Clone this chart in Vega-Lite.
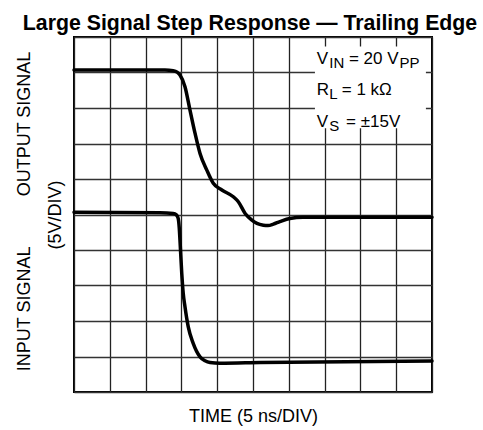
{
  "$schema": "https://vega.github.io/schema/vega-lite/v6.json",
  "width": 358,
  "height": 355,
  "autosize": {"type": "none"},
  "padding": {"left": 74, "top": 37, "right": 51, "bottom": 38},
  "background": "white",
  "title": {"text": "Large Signal Step Response — Trailing Edge", "font": "Liberation Sans", "fontSize": 21.3, "fontWeight": "bold", "color": "black", "anchor": "middle", "baseline": "alphabetic", "offset": 10, "dx": -3, "dy": 24},
  "config": {"view": {"stroke": "black", "strokeWidth": 2}},
  "datasets": {
    "box": [{"x": 6.73, "x2": 9.83, "y": 7.43, "y2": 9.73}],
    "curves": [
      {"s": "out", "x": 0, "y": 9.07},
      {"s": "out", "x": 2.12, "y": 9.07},
      {"s": "out", "x": 2.54, "y": 9.07},
      {"s": "out", "x": 2.77, "y": 9.05},
      {"s": "out", "x": 2.88, "y": 9.01},
      {"s": "out", "x": 2.96, "y": 8.93},
      {"s": "out", "x": 3.10, "y": 8.60},
      {"s": "out", "x": 3.24, "y": 7.94},
      {"s": "out", "x": 3.38, "y": 7.29},
      {"s": "out", "x": 3.52, "y": 6.72},
      {"s": "out", "x": 3.71, "y": 6.25},
      {"s": "out", "x": 3.89, "y": 5.88},
      {"s": "out", "x": 4.13, "y": 5.69},
      {"s": "out", "x": 4.45, "y": 5.50},
      {"s": "out", "x": 4.59, "y": 5.36},
      {"s": "out", "x": 4.78, "y": 5.03},
      {"s": "out", "x": 4.96, "y": 4.85},
      {"s": "out", "x": 5.11, "y": 4.75},
      {"s": "out", "x": 5.29, "y": 4.70},
      {"s": "out", "x": 5.42, "y": 4.69},
      {"s": "out", "x": 5.57, "y": 4.73},
      {"s": "out", "x": 5.75, "y": 4.80},
      {"s": "out", "x": 6.03, "y": 4.89},
      {"s": "out", "x": 6.40, "y": 4.92},
      {"s": "out", "x": 7.71, "y": 4.92},
      {"s": "out", "x": 10, "y": 4.92},
      {"s": "in", "x": 0, "y": 5.06},
      {"s": "in", "x": 2.40, "y": 5.05},
      {"s": "in", "x": 2.77, "y": 5.03},
      {"s": "in", "x": 2.86, "y": 4.99},
      {"s": "in", "x": 2.91, "y": 4.89},
      {"s": "in", "x": 2.94, "y": 4.62},
      {"s": "in", "x": 2.96, "y": 4.28},
      {"s": "in", "x": 3.01, "y": 3.34},
      {"s": "in", "x": 3.05, "y": 2.79},
      {"s": "in", "x": 3.10, "y": 2.40},
      {"s": "in", "x": 3.19, "y": 1.84},
      {"s": "in", "x": 3.33, "y": 1.37},
      {"s": "in", "x": 3.52, "y": 0.99},
      {"s": "in", "x": 3.66, "y": 0.88},
      {"s": "in", "x": 3.80, "y": 0.83},
      {"s": "in", "x": 4.08, "y": 0.81},
      {"s": "in", "x": 5.20, "y": 0.83},
      {"s": "in", "x": 10, "y": 0.87}
    ],
    "ann": [
      {"x": 6.78, "y": 9.24, "t": "V"},
      {"x": 7.68, "y": 9.24, "t": "= 20 V"},
      {"x": 6.78, "y": 8.37, "t": "R"},
      {"x": 7.48, "y": 8.37, "t": "= 1 kΩ"},
      {"x": 6.78, "y": 7.46, "t": "V"},
      {"x": 7.60, "y": 7.46, "t": "= ±15V"}
    ],
    "sub": [
      {"x": 7.13, "y": 9.24, "t": "IN"},
      {"x": 9.09, "y": 9.24, "t": "PP"},
      {"x": 7.13, "y": 8.37, "t": "L"},
      {"x": 7.13, "y": 7.46, "t": "S"}
    ],
    "side": [
      {"x": -1.23, "y": 7.55, "t": "OUTPUT SIGNAL"},
      {"x": -1.23, "y": 2.34, "t": "INPUT SIGNAL"}
    ]
  },
  "encoding": {
    "x": {"field": "x", "type": "quantitative", "scale": {"domain": [0, 10], "nice": false, "zero": false},
      "axis": {"title": "TIME (5 ns/DIV)", "values": [0,1,2,3,4,5,6,7,8,9,10], "labels": false, "ticks": false, "domain": false, "grid": true, "gridColor": "#222", "gridWidth": 1.3, "titleFont": "Liberation Sans", "titleFontSize": 18, "titleFontWeight": "normal", "titleColor": "black", "titlePadding": 15}},
    "y": {"field": "y", "type": "quantitative", "scale": {"domain": [0, 10], "nice": false, "zero": false},
      "axis": {"title": "(5V/DIV)", "values": [0,1,2,3,4,5,6,7,8,9,10], "labels": false, "ticks": false, "domain": false, "grid": true, "gridColor": "#333", "gridWidth": 1.3, "titleFont": "Liberation Sans", "titleFontSize": 18, "titleFontWeight": "normal", "titleColor": "black", "titlePadding": 10}}
  },
  "layer": [
    {"data": {"name": "box"}, "mark": {"type": "rect", "fill": "white", "stroke": null}, "encoding": {"x2": {"field": "x2"}, "y2": {"field": "y2"}}},
    {"data": {"name": "curves"}, "mark": {"type": "line", "stroke": "black", "strokeWidth": 3.5, "interpolate": "monotone", "strokeCap": "round", "strokeJoin": "round"}, "encoding": {"detail": {"field": "s"}}},
    {"data": {"name": "ann"}, "mark": {"type": "text", "font": "Liberation Sans", "fontSize": 17, "align": "left", "baseline": "alphabetic", "color": "black"}, "encoding": {"text": {"field": "t"}}},
    {"data": {"name": "sub"}, "mark": {"type": "text", "font": "Liberation Sans", "fontSize": 15, "align": "left", "baseline": "alphabetic", "dy": 4, "color": "black"}, "encoding": {"text": {"field": "t"}}},
    {"data": {"name": "side"}, "mark": {"type": "text", "font": "Liberation Sans", "fontSize": 18, "align": "center", "baseline": "alphabetic", "angle": 270, "color": "black"}, "encoding": {"text": {"field": "t"}}}
  ]
}
